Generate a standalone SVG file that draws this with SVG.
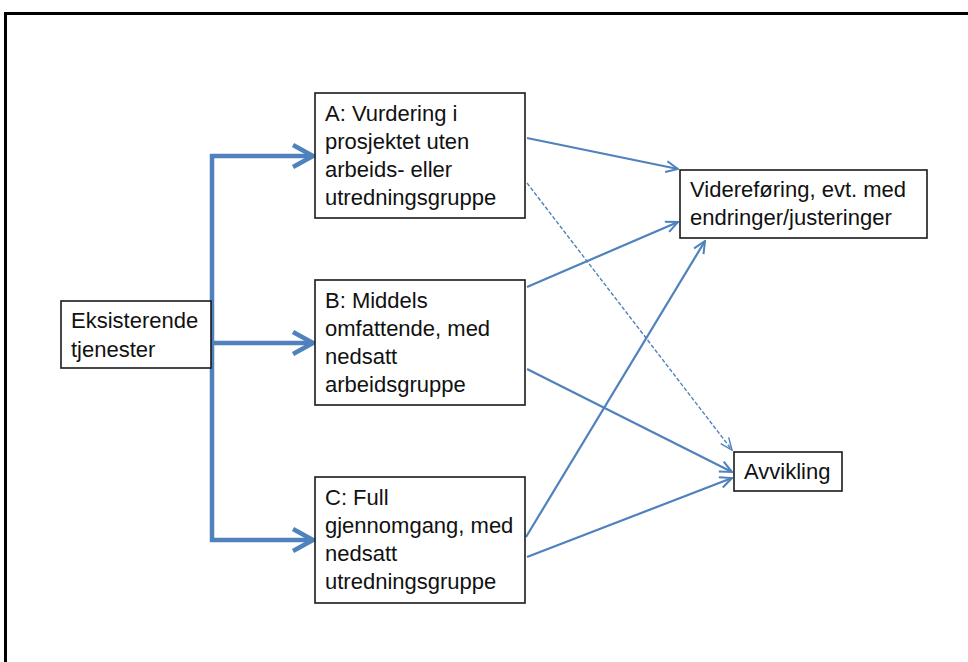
<svg xmlns="http://www.w3.org/2000/svg" width="968" height="662" viewBox="0 0 968 662">
<defs>
<style>
.box{fill:#fff;stroke:#1a1a1a;stroke-width:1.6}
.t{font-family:"Liberation Sans",Arial,sans-serif;font-size:22px;fill:#111}
.thick{fill:none;stroke:#4F81BD;stroke-width:4.5}
.thin{fill:none;stroke:#4F81BD;stroke-width:2.2}
.dash{fill:none;stroke:#4F81BD;stroke-width:1.4;stroke-dasharray:4 2}
</style>
<marker id="hb" markerUnits="userSpaceOnUse" viewBox="0 0 24 26" refX="22" refY="13" markerWidth="24" markerHeight="26" orient="auto">
<path d="M2,2 L22,13 L2,24" fill="none" stroke="#4F81BD" stroke-width="4.5"/>
</marker>
<marker id="hs" markerUnits="userSpaceOnUse" viewBox="0 0 14 14" refX="13" refY="7" markerWidth="14" markerHeight="14" orient="auto">
<path d="M1,1.5 L13,7 L1,12.5" fill="none" stroke="#4F81BD" stroke-width="2"/>
</marker>
<marker id="hd" markerUnits="userSpaceOnUse" viewBox="0 0 14 14" refX="13" refY="7" markerWidth="14" markerHeight="14" orient="auto">
<path d="M1,2 L13,7 L1,12" fill="none" stroke="#4F81BD" stroke-width="1.4"/>
</marker>
</defs>
<rect x="0" y="0" width="968" height="662" fill="#fff"/>
<path d="M5.5,990 L5.5,13.5 L990,13.5" fill="none" stroke="#000" stroke-width="3"/>
<g id="connectors">
<path class="thick" d="M212,340 L212,156 L313,156" marker-end="url(#hb)"/>
<path class="thick" d="M212,343 L313,343" marker-end="url(#hb)"/>
<path class="thick" d="M212,340 L212,540 L313,540" marker-end="url(#hb)"/>
<path class="thin" d="M527,138 L678,169" marker-end="url(#hs)"/>
<path class="dash" d="M527,183 L732,450" marker-end="url(#hd)"/>
<path class="thin" d="M527,287 L678,222" marker-end="url(#hs)"/>
<path class="thin" d="M527,369 L732,472" marker-end="url(#hs)"/>
<path class="thin" d="M526,537 L705,241" marker-end="url(#hs)"/>
<path class="thin" d="M527,557 L732,478" marker-end="url(#hs)"/>
</g>
<g id="node-eksisterende">
<rect class="box" x="61" y="301" width="150" height="67"/>
<text class="t" x="71" y="328">Eksisterende</text>
<text class="t" x="71" y="357">tjenester</text>
</g>
<g id="node-a">
<rect class="box" x="315" y="93" width="210" height="125"/>
<text class="t" x="325" y="121">A: Vurdering i</text>
<text class="t" x="325" y="149">prosjektet uten</text>
<text class="t" x="325" y="177">arbeids- eller</text>
<text class="t" x="325" y="205">utredningsgruppe</text>
</g>
<g id="node-b">
<rect class="box" x="315" y="280" width="210" height="125"/>
<text class="t" x="325" y="308">B: Middels</text>
<text class="t" x="325" y="336">omfattende, med</text>
<text class="t" x="325" y="364">nedsatt</text>
<text class="t" x="325" y="392">arbeidsgruppe</text>
</g>
<g id="node-c">
<rect class="box" x="315" y="477" width="210" height="126"/>
<text class="t" x="325" y="505">C: Full</text>
<text class="t" x="325" y="533">gjennomgang, med</text>
<text class="t" x="325" y="561">nedsatt</text>
<text class="t" x="325" y="589">utredningsgruppe</text>
</g>
<g id="node-videreforing">
<rect class="box" x="680" y="170" width="247" height="68"/>
<text class="t" x="690" y="197">Videreføring, evt. med</text>
<text class="t" x="690" y="225">endringer/justeringer</text>
</g>
<g id="node-avvikling">
<rect class="box" x="734" y="452" width="108" height="39"/>
<text class="t" x="744" y="479">Avvikling</text>
</g>
</svg>
